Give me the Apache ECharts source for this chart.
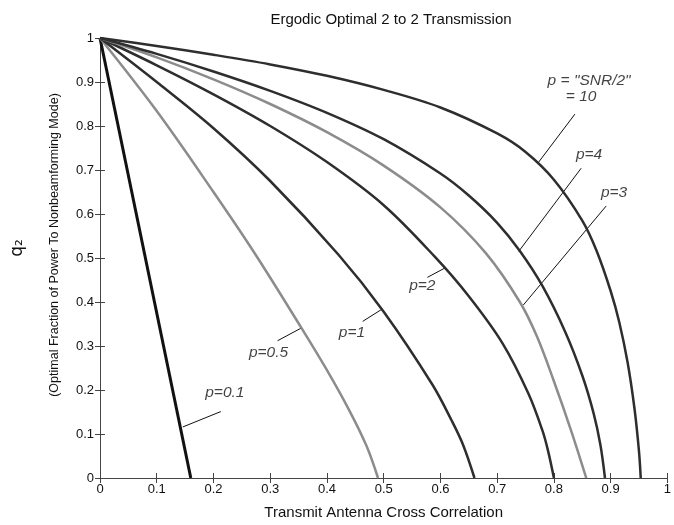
<!DOCTYPE html>
<html>
<head>
<meta charset="utf-8">
<script src="https://cdn.jsdelivr.net/npm/echarts@6/dist/echarts.min.js"></script>
<style>
  html, body { margin: 0; padding: 0; background: #fff; }
  #main { width: 674px; height: 525px; }
</style>
</head>
<body>
<div id="main"></div>
<script>
// tick labels
var xTicks = [0, 0.1, 0.2, 0.3, 0.4, 0.5, 0.6, 0.7, 0.8, 0.9, 1];
var yTicks = [0, 0.1, 0.2, 0.3, 0.4, 0.5, 0.6, 0.7, 0.8, 0.9, 1];

// curves, [correlation, q2]
var curveP01 = [[0, 1], [0.16, 0]];
var curveP05 = [[0, 1], [0.1, 0.834], [0.2, 0.65], [0.274, 0.508], [0.355, 0.341], [0.4, 0.245],
  [0.44, 0.152], [0.47, 0.072], [0.49, 0]];
var curveP1 = [[0, 1], [0.1, 0.9], [0.2, 0.795], [0.3, 0.675], [0.42, 0.508], [0.5, 0.378],
  [0.586, 0.212], [0.62, 0.13], [0.64, 0.075], [0.66, 0]];
var curveP2 = [[0, 1], [0.1, 0.938], [0.2, 0.872], [0.3, 0.8], [0.4, 0.718], [0.5, 0.62],
  [0.59, 0.503], [0.65, 0.413], [0.71, 0.305], [0.755, 0.192], [0.78, 0.107], [0.79, 0.06], [0.8, 0]];
var curveP3 = [[0, 1], [0.1, 0.956], [0.2, 0.906], [0.3, 0.85], [0.4, 0.786], [0.5, 0.71],
  [0.6, 0.615], [0.68, 0.511], [0.74, 0.4], [0.77, 0.322], [0.8, 0.22], [0.83, 0.109], [0.857, 0]];
var curveP4 = [[0, 1], [0.1, 0.964], [0.2, 0.924], [0.3, 0.88], [0.4, 0.83], [0.5, 0.77],
  [0.6, 0.692], [0.65, 0.642], [0.7, 0.58], [0.74, 0.516], [0.78, 0.436], [0.82, 0.332],
  [0.85, 0.233], [0.87, 0.147], [0.882, 0.075], [0.89, 0]];
var curveP10 = [[0, 1], [0.1, 0.982], [0.2, 0.962], [0.3, 0.94], [0.4, 0.914], [0.5, 0.882],
  [0.6, 0.842], [0.7, 0.783], [0.75, 0.741], [0.8, 0.678], [0.85, 0.585], [0.875, 0.517],
  [0.9, 0.425], [0.915, 0.355], [0.93, 0.262], [0.942, 0.158], [0.95, 0.06], [0.953, 0]];

// annotation leaders [from, to] and texts
var leaderLines = [
  [[0.146, 0.116], [0.213, 0.151]],
  [[0.355, 0.341], [0.313, 0.312]],
  [[0.495, 0.382], [0.463, 0.356]],
  [[0.609, 0.478], [0.577, 0.456]],
  [[0.746, 0.393], [0.892, 0.618]],
  [[0.738, 0.515], [0.848, 0.704]],
  [[0.772, 0.716], [0.837, 0.827]]
];
var labelTexts = ['p=0.1', 'p=0.5', 'p=1', 'p=2', 'p=3', 'p=4', 'p = "SNR/2"', '= 10'];
var labelPos = [[0.22, 0.193], [0.297, 0.284], [0.444, 0.33], [0.568, 0.438],
  [0.906, 0.649], [0.862, 0.735], [0.862, 0.902], [0.848, 0.867]];

var chart = echarts.init(document.getElementById('main'));

var dark = '#2e2e2e', gray = '#8c8c8c';
function curve(name, data, color, width) {
  return {
    name: name, type: 'line', data: data, smooth: 0.35, symbol: 'none',
    lineStyle: { color: color, width: width }, silent: true, animation: false
  };
}

var axisBase = {
  type: 'value', min: 0, max: 1, interval: 0.1,
  splitLine: { show: false },
  axisLine: { lineStyle: { color: '#444', width: 1 } },
  axisTick: { inside: true, length: 5, lineStyle: { color: '#444' } }
};
function fmt(v) { return String(Math.round(v * 10) / 10); }

var option = {
  animation: false,
  backgroundColor: '#fff',
  title: {
    text: 'Ergodic Optimal 2 to 2 Transmission',
    left: 386, top: 7, textAlign: 'center',
    textStyle: { fontFamily: 'Liberation Sans', fontSize: 15, fontWeight: 'normal', color: '#111' }
  },
  grid: { left: 100, right: 2, top: 38, bottom: 36 },
  xAxis: [
    Object.assign({}, axisBase, {
      position: 'bottom',
      name: 'Transmit Antenna Cross Correlation', nameLocation: 'middle', nameGap: 27,
      nameTextStyle: { fontFamily: 'Liberation Sans', fontSize: 15, color: '#111' },
      axisLabel: { fontFamily: 'Liberation Sans', fontSize: 13, color: '#111', margin: 5, formatter: fmt }
    }),
    Object.assign({}, axisBase, { position: 'top', axisLabel: { show: false } })
  ],
  yAxis: [
    Object.assign({}, axisBase, {
      position: 'left',
      axisLabel: { fontFamily: 'Liberation Sans', fontSize: 13, color: '#111', margin: 6, formatter: fmt }
    }),
    Object.assign({}, axisBase, { position: 'right', axisLabel: { show: false } })
  ],
  graphic: [
    {
      type: 'text', x: 18, y: 248, rotation: Math.PI / 2,
      style: { text: 'q\u2082', fontFamily: 'DejaVu Sans', fontSize: 17, fill: '#111',
        align: 'center', verticalAlign: 'middle' }
    },
    {
      type: 'text', x: 55, y: 245, rotation: Math.PI / 2,
      style: { text: '(Optimal Fraction of Power To Nonbeamforming Mode)', fontFamily: 'Liberation Sans',
        fontSize: 12.5, fill: '#111', align: 'center', verticalAlign: 'middle' }
    }
  ],
  series: [
    curve('p=0.1', curveP01, '#111', 3),
    curve('p=0.5', curveP05, gray, 2.5),
    curve('p=1', curveP1, dark, 2.5),
    curve('p=2', curveP2, dark, 2.5),
    curve('p=3', curveP3, gray, 2.5),
    curve('p=4', curveP4, dark, 2.5),
    curve('p=10', curveP10, dark, 2.5),
    {
      type: 'lines', coordinateSystem: 'cartesian2d', silent: true,
      data: leaderLines.map(function (c) { return { coords: c }; }),
      lineStyle: { color: '#111', width: 1, opacity: 1 }
    },
    {
      type: 'scatter', symbolSize: 0, silent: true,
      data: labelPos.map(function (p, i) { return [p[0], p[1], labelTexts[i]]; }),
      label: {
        show: true, position: 'inside', color: '#111', fontFamily: 'Liberation Sans',
        fontStyle: 'italic', fontSize: 15.5,
        formatter: function (d) { return d.value[2]; }
      }
    }
  ]
};
chart.setOption(option);
</script>
</body>
</html>
